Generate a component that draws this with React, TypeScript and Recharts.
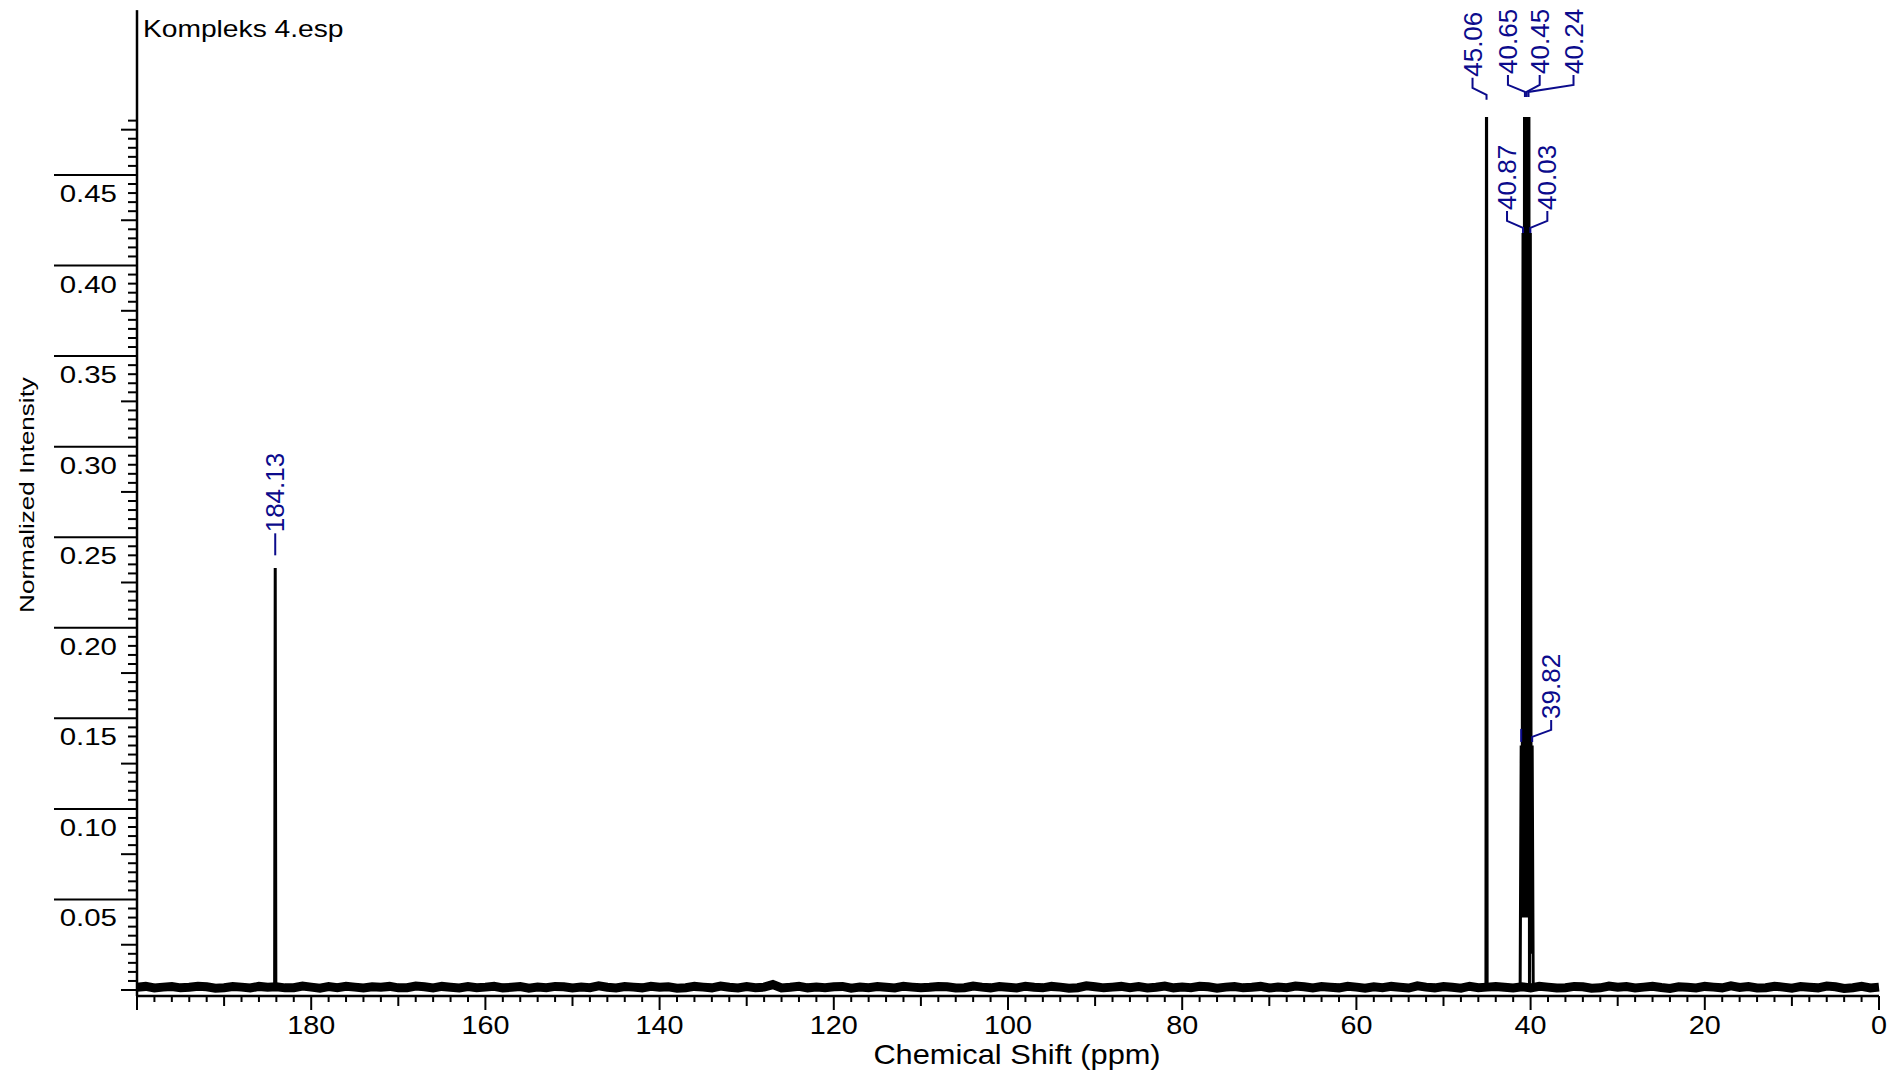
import { LineChart, Line, XAxis, YAxis, ReferenceLine, ReferenceDot } from 'recharts'

const FONT = '"Liberation Sans", Arial, Helvetica, sans-serif'
const LABEL_BLUE = '#0b0b8c'

// baseline noise, one value per ppm from 0 to 200
const noisePpm = Array.from({ length: 201 }, (_, i) => i)
const noiseIntensity = [
  0.0016, 0.0011, 0.0020, 0.0013, 0.0009, 0.0018, 0.0022, 0.0012, 0.0015, 0.0019,
  0.0010, 0.0016, 0.0021, 0.0013, 0.0011, 0.0019, 0.0014, 0.0023, 0.0012, 0.0016,
  0.0020, 0.0011, 0.0015, 0.0018, 0.0009, 0.0014, 0.0021, 0.0016, 0.0011, 0.0019,
  0.0015, 0.0022, 0.0012, 0.0010, 0.0018, 0.0020, 0.0013, 0.0011, 0.0016, 0.0021,
  0.0012, 0.0018, 0.0011, 0.0015, 0.0019, 0.0016, 0.0013, 0.0021, 0.0010, 0.0015,
  0.0019, 0.0012, 0.0016, 0.0023, 0.0011, 0.0015, 0.0020, 0.0013, 0.0018, 0.0010,
  0.0016, 0.0021, 0.0012, 0.0015, 0.0019, 0.0011, 0.0018, 0.0022, 0.0013, 0.0016,
  0.0011, 0.0020, 0.0015, 0.0012, 0.0019, 0.0016, 0.0010, 0.0018, 0.0021, 0.0013,
  0.0016, 0.0012, 0.0022, 0.0015, 0.0011, 0.0019, 0.0013, 0.0020, 0.0016, 0.0012,
  0.0018, 0.0023, 0.0013, 0.0010, 0.0016, 0.0020, 0.0012, 0.0015, 0.0021, 0.0011,
  0.0015, 0.0019, 0.0012, 0.0016, 0.0022, 0.0013, 0.0011, 0.0018, 0.0020, 0.0015,
  0.0012, 0.0016, 0.0021, 0.0011, 0.0015, 0.0019, 0.0013, 0.0016, 0.0010, 0.0020,
  0.0018, 0.0013, 0.0016, 0.0012, 0.0021, 0.0015, 0.0011, 0.0030, 0.0016, 0.0013,
  0.0019, 0.0011, 0.0015, 0.0022, 0.0012, 0.0016, 0.0020, 0.0013, 0.0010, 0.0018,
  0.0015, 0.0021, 0.0012, 0.0016, 0.0019, 0.0011, 0.0015, 0.0023, 0.0013, 0.0016,
  0.0011, 0.0018, 0.0020, 0.0013, 0.0016, 0.0010, 0.0019, 0.0015, 0.0012, 0.0021,
  0.0016, 0.0013, 0.0019, 0.0011, 0.0015, 0.0020, 0.0012, 0.0018, 0.0022, 0.0013,
  0.0012, 0.0020, 0.0015, 0.0018, 0.0011, 0.0016, 0.0021, 0.0013, 0.0019, 0.0010,
  0.0016, 0.0022, 0.0013, 0.0012, 0.0018, 0.0015, 0.0020, 0.0011, 0.0016, 0.0019,
  0.0013, 0.0010, 0.0018, 0.0021, 0.0015, 0.0012, 0.0019, 0.0016, 0.0011, 0.0020,
  0.0015,
]

// C=O singlet
const carbonylPpm = [184.2, 184.13, 184.06]
const carbonylIntensity = [0.0014, 0.233, 0.0014]

// 45.06 singlet (runs off the top of the plot)
const methylPpm = [45.13, 45.06, 44.99]
const methylIntensity = [0.0014, 0.55, 0.0014]

// DMSO-d6 septet
const solventPpm = [41.2, 41.08, 40.98, 40.87, 40.76, 40.65, 40.55, 40.45, 40.35, 40.24, 40.13, 40.03, 39.92, 39.82, 39.7]
const solventIntensity = [0.0014, 0.135, 0.04, 0.418, 0.04, 0.86, 0.04, 1.0, 0.04, 0.86, 0.003, 0.418, 0.02, 0.135, 0.0014]

// peak picking labels
const peakLabelText = ['184.13', '45.06', '40.65', '40.45', '40.24', '40.87', '40.03', '39.82', '']
const peakLabelPpm = [184.13, 45.06, 40.65, 40.45, 40.24, 40.87, 40.03, 39.82, 41.08]
const peakLabelAnchor = [0.24, 0.4915, 0.4931, 0.4931, 0.4931, 0.418, 0.418, 0.137, 0.137]
// label layout (px)
const labelDx = [0, -14, -17, 13, 45, -16, 17, 19, 0]
const labelLift = [22, 22, 22, 22, 22, 22, 22, 22, 13]

const xTicks = Array.from({ length: 101 }, (_, i) => i * 2)
const yTicks = Array.from({ length: 97 }, (_, i) => (i * 5) / 1000)
const Y_MIN = -0.0033
const Y_MAX = 0.482
const Y_AXIS_TOP = 0.541

const toSeries = (ppm: number[], vals: number[]) => ppm.map((p, i) => ({ ppm: p, v: vals[i] }))
const noiseData = toSeries(noisePpm, noiseIntensity)
const carbonylData = toSeries(carbonylPpm, carbonylIntensity)
const methylData = toSeries(methylPpm, methylIntensity)
const solventData = toSeries(solventPpm, solventIntensity)

function YTick(props: any) {
  const { x, y, payload } = props
  const k = Math.round(payload.value * 1000)
  const major = k > 0 && k % 50 === 0
  const medium = k % 25 === 0
  const len = major ? 83 : medium ? 16 : 9
  return (
    <g>
      <line x1={x - len} x2={x} y1={y} y2={y} stroke="#000" strokeWidth={2} />
      {major && (
        <text
          transform={`translate(${x - 20},${y + 27}) scale(1.28,1)`}
          textAnchor="end"
          fontSize={23}
          fontFamily={FONT}
          fill="#000"
        >
          {(k / 1000).toFixed(2)}
        </text>
      )}
    </g>
  )
}

function XTick(props: any) {
  const { x, y, payload } = props
  const v = Math.round(payload.value)
  const major = v % 20 === 0
  const medium = v % 10 === 0
  const len = major ? 14 : medium ? 10 : 6
  return (
    <g>
      <line x1={x} x2={x} y1={y} y2={y + len} stroke="#000" strokeWidth={2} />
      {major && v < 200 && (
        <text
          transform={`translate(${x},${y + 38}) scale(1.15,1)`}
          textAnchor="middle"
          fontSize={25}
          fontFamily={FONT}
          fill="#000"
        >
          {v}
        </text>
      )}
    </g>
  )
}

const makeLabelShape = (i: number) => (props: any) => {
  const { cx, cy } = props
  const tx = cx + labelDx[i]
  const lift = labelLift[i]
  const d =
    labelDx[i] === 0
      ? `M${cx},${cy}L${cx},${cy - lift}`
      : `M${cx},${cy}L${cx},${cy - 5}L${tx},${cy - 12}L${tx},${cy - lift}`
  return (
    <g>
      <path d={d} stroke={LABEL_BLUE} strokeWidth={2} fill="none" />
      {peakLabelText[i] && (
        <text
          transform={`translate(${tx},${cy - lift - 1}) rotate(-90)`}
          dy="0.35em"
          fontSize={26}
          fontFamily={FONT}
          fill={LABEL_BLUE}
        >
          {peakLabelText[i]}
        </text>
      )}
    </g>
  )
}

export default function App() {
  return (
    <div style={{ position: 'absolute', left: 0, top: 0, width: 1897, height: 1076, background: '#fff' }}>
      <LineChart width={1897} height={1076} margin={{ top: 117, right: 18, bottom: 0, left: 0 }}>
        <XAxis
          type="number"
          dataKey="ppm"
          domain={[0, 200]}
          reversed
          ticks={xTicks}
          interval={0}
          tick={<XTick />}
          tickLine={false}
          tickSize={0}
          tickMargin={0}
          height={80}
          axisLine={{ stroke: '#000', strokeWidth: 2.5 }}
          label={(p: any) => {
            const vb = p.viewBox
            return (
              <text
                transform={`translate(${vb.x + vb.width / 2 + 9},${vb.y + 68}) scale(1.14,1)`}
                textAnchor="middle"
                fontSize={27}
                fontFamily={FONT}
                fill="#000"
              >
                Chemical Shift (ppm)
              </text>
            )
          }}
        />
        <YAxis
          type="number"
          domain={[Y_MIN, Y_MAX]}
          allowDataOverflow
          ticks={yTicks}
          interval={0}
          tick={<YTick />}
          tickLine={false}
          tickSize={0}
          tickMargin={0}
          width={137}
          axisLine={{ stroke: '#000', strokeWidth: 2.5 }}
          label={() => (
            <g>
              <text
                transform="translate(34,495) rotate(-90) scale(1.24,1)"
                textAnchor="middle"
                fontSize={21}
                fontFamily={FONT}
                fill="#000"
              >
                Normalized Intensity
              </text>
              <text
                transform="translate(143,37) scale(1.2,1)"
                fontSize={23.5}
                fontFamily={FONT}
                fill="#000"
              >
                Kompleks 4.esp
              </text>
            </g>
          )}
        />
        <ReferenceLine
          segment={[
            { x: 200, y: Y_MAX },
            { x: 200, y: Y_AXIS_TOP },
          ]}
          ifOverflow="visible"
          stroke="#000"
          strokeWidth={2.5}
        />
        <Line
          data={noiseData}
          dataKey="v"
          stroke="#000"
          strokeWidth={9}
          strokeLinejoin="miter"
          dot={false}
          activeDot={false}
          isAnimationActive={false}
        />
        <Line data={carbonylData} dataKey="v" stroke="#000" strokeWidth={3} dot={false} activeDot={false} isAnimationActive={false} />
        <Line data={methylData} dataKey="v" stroke="#000" strokeWidth={3} dot={false} activeDot={false} isAnimationActive={false} />
        <Line data={solventData} dataKey="v" stroke="#000" strokeWidth={3} dot={false} activeDot={false} isAnimationActive={false} />
        {peakLabelPpm.map((ppm, i) => (
          <ReferenceDot
            key={i}
            x={ppm}
            y={peakLabelAnchor[i]}
            ifOverflow="visible"
            shape={makeLabelShape(i)}
          />
        ))}
      </LineChart>
    </div>
  )
}
